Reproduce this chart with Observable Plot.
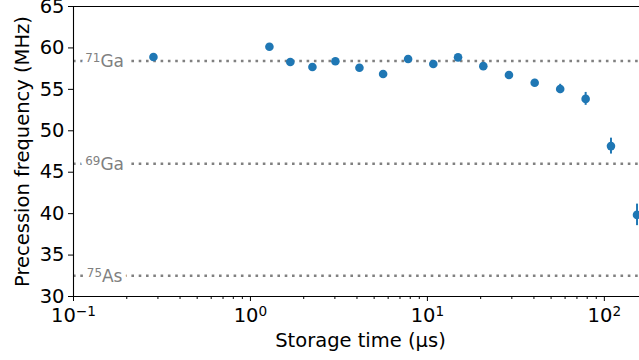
<!DOCTYPE html>
<html>
<head>
<meta charset="utf-8">
<script src="https://cdn.jsdelivr.net/npm/d3@7"></script>
<script src="https://cdn.jsdelivr.net/npm/@observablehq/plot@0.6"></script>
<style>
html, body { margin: 0; padding: 0; overflow: hidden; background: #fff; }
#chart { font-family: "DejaVu Sans", sans-serif; width: 639px; height: 360px; overflow: hidden; }
</style>
</head>
<body>
<div id="chart"></div>
<script>
// Storage times (µs), precession frequencies (MHz) and error bars (MHz)
const times = [0.283, 1.28, 1.68, 2.24, 3.02, 4.13, 5.62, 7.78, 10.8, 14.9, 20.7, 28.9, 40.4, 56.3, 78.4, 109, 153];
const freqs = [58.9, 60.15, 58.3, 57.7, 58.4, 57.6, 56.85, 58.66, 58.06, 58.86, 57.8, 56.74, 55.8, 55.05, 53.85, 48.15, 39.85];
const errors = [0.2, 0.2, 0.2, 0.2, 0.2, 0.2, 0.2, 0.2, 0.2, 0.2, 0.25, 0.3, 0.4, 0.56, 0.78, 0.96, 1.3];

// Reference isotope frequencies (mass number as superscript + element)
const isotopeMass = ["71", "69", "75"];
const isotopeElem = ["Ga", "Ga", "As"];
const isotopeFreqs = [58.42, 46.03, 32.5];
const labelTime = 0.15;

// Tick values and labels
const yTicks = [30, 35, 40, 45, 50, 55, 60, 65];
const xTicks = [0.1, 1, 10, 100];
const xTickBase = ["10", "10", "10", "10"];
const xTickExp = ["−1", "0", "1", "2"];
const xMinorMult = [2, 3, 4, 5, 6, 7, 8, 9];
const xDomain = [0.1, 158];
const yDomain = [30, 65];
const xLabel = "Storage time (μs)";
const yLabel = "Precession frequency (MHz)";

const points = times.map((t, i) => ({t, f: freqs[i], e: errors[i]}));
const isotopes = isotopeMass.map((m, i) => ({label: m + isotopeElem[i], f: isotopeFreqs[i]}));
const minorTicks = [];
for (const d of [0.1, 1, 10, 100]) for (const m of xMinorMult) { const v = d * m; if (v <= xDomain[1]) minorTicks.push(v); }

const blue = "#1f77b4";
const fs = 19.5;
const isoFs = 17;

const chart = Plot.plot({
  width: 639,
  height: 360,
  marginLeft: 73,
  marginRight: 0,
  marginTop: 6,
  marginBottom: 64,
  style: {fontFamily: "DejaVu Sans, sans-serif", background: "white", overflow: "hidden"},
  x: {type: "log", domain: xDomain},
  y: {domain: yDomain},
  marks: [
    Plot.ruleY(isotopes, {y: "f", stroke: "gray", strokeWidth: 2.6, strokeDasharray: "2.6,4.7"}),
    // white halo behind isotope labels
    Plot.text(isotopes, {x: () => labelTime, y: "f", text: "label", fill: "white", stroke: "white", strokeWidth: 10, fontSize: isoFs, textAnchor: "middle", dy: 1}),
    Plot.text(isotopes, {x: () => labelTime, y: "f", text: "label", fill: "gray", fontSize: isoFs, textAnchor: "middle", dy: 1}),
    Plot.ruleX(points, {x: "t", y1: d => d.f - d.e, y2: d => d.f + d.e, stroke: blue, strokeWidth: 2}),
    Plot.dot(points, {x: "t", y: "f", r: 4.3, fill: blue}),
    Plot.axisY({ticks: yTicks, tickSize: 5, tickPadding: 4, fontSize: fs, label: yLabel, labelAnchor: "center", labelOffset: 58, labelArrow: "none", color: "black"}),
    Plot.axisX({ticks: minorTicks, tickSize: 3, tickFormat: () => "", label: null}),
    Plot.axisX({ticks: xTicks, tickSize: 5, tickPadding: 7, fontSize: fs, tickFormat: d => { const i = xTicks.indexOf(d); return xTickBase[i] + "^" + xTickExp[i]; }, label: null}),
    Plot.text([xLabel], {text: d => d, frameAnchor: "bottom", dy: 50, dx: 4, fontSize: fs, lineAnchor: "bottom", fill: "black"}),
    Plot.ruleY([yDomain[0], yDomain[1]], {stroke: "black", strokeWidth: 1.1}),
    Plot.ruleX([xDomain[0]], {stroke: "black", strokeWidth: 1.1})
  ]
});

// Render superscripts with tspans
const svg = d3.select(chart);
svg.selectAll("text").each(function() {
  const t = d3.select(this);
  const s = this.textContent;
  const xi = xTickBase.findIndex((b, i) => s === b + "^" + xTickExp[i]);
  if (xi >= 0) {
    t.text(null);
    t.append("tspan").text(xTickBase[xi]);
    t.append("tspan").attr("font-size", (fs * 0.7) + "px").attr("dy", (-0.34 * fs) + "px").text(xTickExp[xi]);
    return;
  }
  const ii = isotopes.findIndex(d => d.label === s);
  if (ii >= 0) {
    t.text(null);
    t.append("tspan").attr("font-size", (isoFs * 0.7) + "px").attr("dy", (-0.3 * isoFs) + "px").text(isotopeMass[ii]);
    t.append("tspan").attr("dy", (0.3 * isoFs) + "px").text(isotopeElem[ii]);
  }
});

document.getElementById("chart").appendChild(chart);
</script>
</body>
</html>
